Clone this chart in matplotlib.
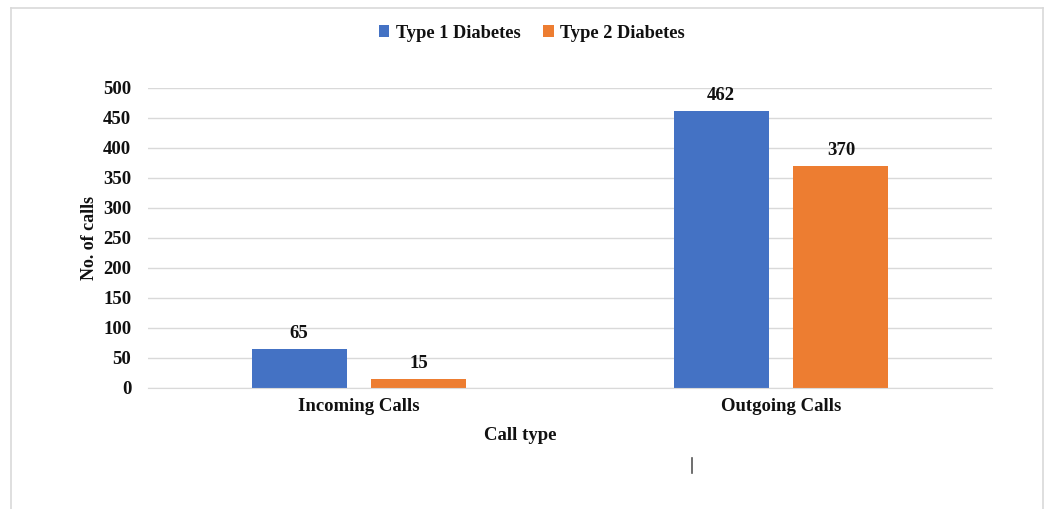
import matplotlib
matplotlib.use("Agg")
import matplotlib.pyplot as plt
from matplotlib.lines import Line2D
import numpy as np

categories = ["Incoming Calls", "Outgoing Calls"]
series_names = ["Type 1 Diabetes", "Type 2 Diabetes"]
type1_calls = [65, 462]
type2_calls = [15, 370]
y_ticks = [0, 50, 100, 150, 200, 250, 300, 350, 400, 450, 500]

colors = ["#4472C4", "#ED7D31"]
plt.rcParams["font.family"] = ["Liberation Serif", "DejaVu Serif"]
plt.rcParams["font.weight"] = "bold"
FS = 13.5
TXT = "#111111"

W, H = 1048, 509
fig = plt.figure(figsize=(W / 100, H / 100), dpi=100)
ax = fig.add_axes([148 / W, 1 - 388 / H, (992 - 148) / W, 300 / H])

x = np.arange(len(categories))
bar_w = 0.225
offset = 0.142
for vals, off, col, name in zip([type1_calls, type2_calls], [-offset, offset], colors, series_names):
    bars = ax.bar(x + off, vals, width=bar_w, color=col, label=name, zorder=3)
    for b, v in zip(bars, vals):
        ax.annotate(str(v), (b.get_x() + b.get_width() / 2, v), xytext=(0, 5),
                    textcoords="offset points", ha="center", va="bottom",
                    fontsize=FS, fontweight="bold", color=TXT)

ax.set_xlim(-0.5, 1.5)
ax.set_ylim(0, 500)
ax.set_yticks(y_ticks)
ax.set_xticks(x)
ax.set_xticklabels(categories)
ax.tick_params(axis="both", length=0, labelsize=FS, colors=TXT)
ax.tick_params(axis="y", pad=12)
ax.tick_params(axis="x", pad=7)
for lbl in ax.get_xticklabels() + ax.get_yticklabels():
    lbl.set_fontweight("bold")
ax.yaxis.grid(True, color="#d9d9d9", linewidth=1, zorder=0)
for s in ["top", "right", "left"]:
    ax.spines[s].set_visible(False)
ax.spines["bottom"].set_color("#d9d9d9")
ax.spines["bottom"].set_zorder(4)

fig.text(90 / W, 1 - 238 / H, "No. of calls", rotation=90, ha="center", va="center",
         fontsize=13, fontweight="bold", color=TXT)
fig.text(520 / W, 1 - 436 / H, "Call type", ha="center", va="center",
         fontsize=FS, fontweight="bold", color=TXT)

leg = fig.legend(loc="center", bbox_to_anchor=(532 / W, 1 - 33 / H), ncol=2, frameon=False,
                 prop={"size": 13.2, "weight": "bold"}, handlelength=0.55, handleheight=0.55,
                 handletextpad=0.35, columnspacing=1.25)
for t in leg.get_texts():
    t.set_color(TXT)

# outer frame
border = "#d9d9d9"
fig.add_artist(Line2D([11 / W, 11 / W], [0, 1 - 8 / H], color=border, lw=1.2))
fig.add_artist(Line2D([11 / W, 1043 / W], [1 - 8 / H, 1 - 8 / H], color=border, lw=1.2))
fig.add_artist(Line2D([1043 / W, 1043 / W], [0, 1 - 8 / H], color=border, lw=1.2))
# cursor stroke
fig.add_artist(Line2D([692 / W, 692 / W], [1 - 458 / H, 1 - 473 / H], color="#555555", lw=1.2))

fig.savefig("out.png", dpi=100, facecolor="white")
